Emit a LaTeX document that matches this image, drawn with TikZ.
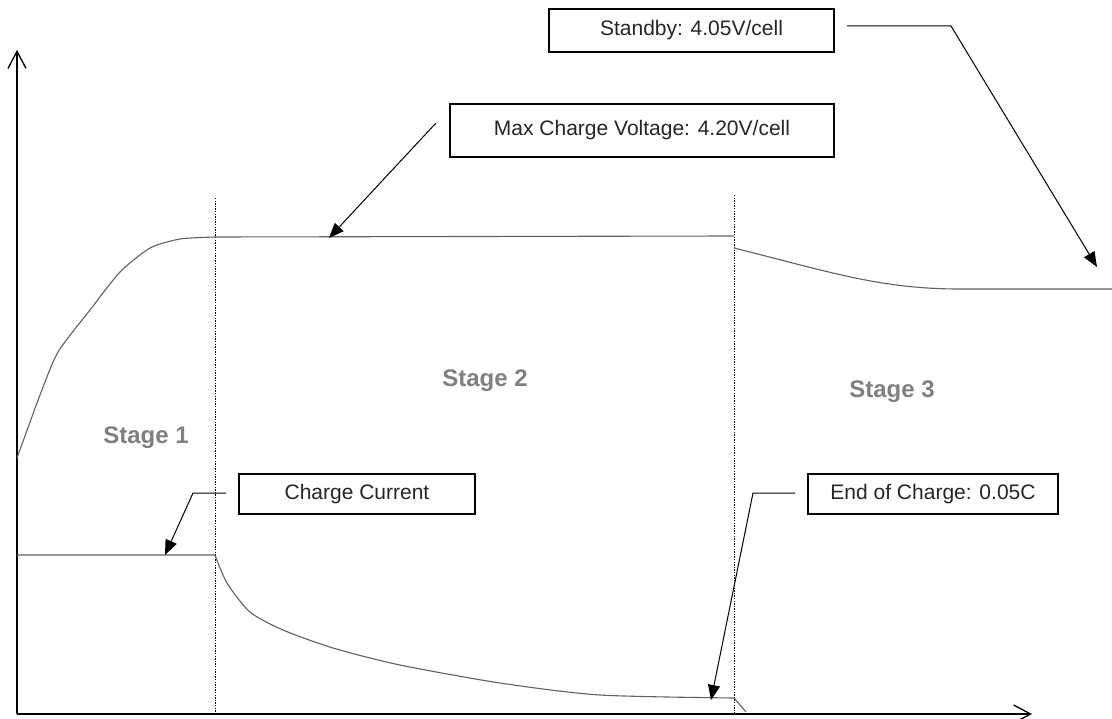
\documentclass[tikz,border=0pt]{standalone}
\usepackage{fontspec}
\setmainfont{Liberation Sans}
\usetikzlibrary{arrows.meta}
\begin{document}
\begin{tikzpicture}[x=1bp,y=-1bp,
  curve/.style={draw=black!62, line width=1.1bp, line join=round},
  axisline/.style={draw=black, line width=1.6bp},
  stageline/.style={draw=black, line width=0.9bp, dash pattern=on 1.3bp off 1.3bp},
  labelbox/.style={draw=black, line width=1.4bp, rectangle, inner sep=0pt,
    font=\fontsize{21bp}{24bp}\selectfont, text=black!85},
  leader/.style={draw=black, line width=1bp, -{Triangle[length=15bp,width=12bp]}},
  stagetext/.style={font=\fontsize{24bp}{28bp}\selectfont\bfseries, text=black!50},
  axishead/.style={-{Straight Barb[length=17bp,width=18bp,line width=1.3bp]}}
]
\useasboundingbox[fill=white] (0,0) rectangle (1112,719);

% axes
\coordinate (O) at (17,714);
\coordinate (ytop) at (17,50);
\coordinate (xend) at (1032,714);
\draw[axisline, axishead] (O) -- (ytop);
\draw[axisline, axishead] (O) -- (xend);

% stage separators
\coordinate (s1top) at (215,198);
\coordinate (s1bot) at (215,714);
\coordinate (s2top) at (734,195);
\coordinate (s2bot) at (734,714);
\draw[stageline] (s1top) -- (s1bot);
\draw[stageline] (s2top) -- (s2bot);

% voltage curve
\draw[curve] plot[smooth, tension=0.4] coordinates {(17,458) (40,395) (58,352) (90,310) (120,272) (150,248) (180,239) (215,237)} -- (734,236);
\draw[curve] (734,248) .. controls (830,272) and (880,289) .. (960,289) -- (1112,289);

% current curve
\draw[curve] (17,555) -- (215,555) plot[smooth, tension=0.45] coordinates {(215,555) (227,583) (250,612) (283,630) (333,648) (400,665) (500,683) (600,695) (734,698)} -- (746,712);

% stage labels
\node[stagetext] (st1) at (146,438) {Stage 1};
\node[stagetext] (st2) at (485,381) {Stage 2};
\node[stagetext] (st3) at (892,392) {Stage 3};

% label boxes
\node[labelbox, minimum width=285bp, minimum height=43bp] (standby) at (691.5,30.5) {Standby: 4.05V/cell};
\node[labelbox, minimum width=384bp, minimum height=53bp] (maxv) at (642,130.5) {Max Charge Voltage: 4.20V/cell};
\node[labelbox, minimum width=236bp, minimum height=40bp] (ccur) at (357,494) {Charge Current};
\node[labelbox, minimum width=250bp, minimum height=40bp] (eoc) at (933,494) {End of Charge: 0.05C};

% leaders
\coordinate (sbA) at (847,26);
\coordinate (sbB) at (951,26);
\coordinate (sbT) at (1097,267);
\draw[leader] (sbA) -- (sbB) -- (sbT);

\coordinate (mvA) at (436,123);
\coordinate (mvT) at (329,238);
\draw[leader] (mvA) -- (mvT);

\coordinate (ccA) at (226,493);
\coordinate (ccB) at (193,493);
\coordinate (ccT) at (165,555);
\draw[leader] (ccA) -- (ccB) -- (ccT);

\coordinate (ecA) at (795,493);
\coordinate (ecB) at (753,493);
\coordinate (ecT) at (711,700);
\draw[leader] (ecA) -- (ecB) -- (ecT);
\end{tikzpicture}
\end{document}
